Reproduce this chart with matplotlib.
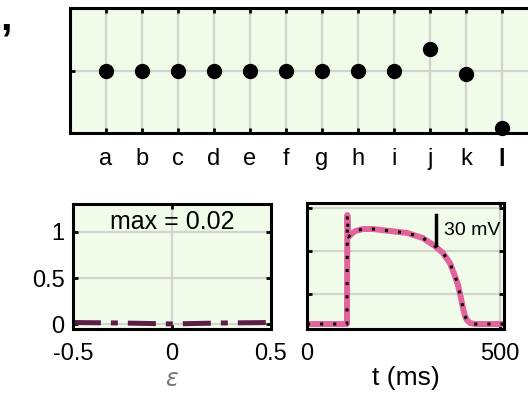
import numpy as np
import matplotlib
matplotlib.use("Agg")
import matplotlib.pyplot as plt

plt.rcParams['font.family'] = ['Liberation Sans', 'DejaVu Sans']

# top panel: one value per letter
letters = ['a', 'b', 'c', 'd', 'e', 'f', 'g', 'h', 'i', 'j', 'k', 'l']
letter_vals = [0, 0, 0, 0, 0, 0, 0, 0, 0, 0.34, -0.06, -0.92]

# bottom left: flat curve over epsilon
eps = [-0.5, -0.25, 0.0, 0.25, 0.5]
eps_vals = [0.02, 0.015, 0.005, 0.015, 0.02]

# bottom right: action potential (ms, mV)
t_ms = [0, 103.5, 104.5, 107, 112, 125, 145, 170, 215, 260, 300, 331, 352,
        370, 383, 391, 398, 404, 409, 414, 422, 435, 510]
v_mv = [-85, -85, 24, 2, 4, 8, 10, 10, 8, 6, 1, -7, -14,
        -24, -37, -46, -58, -69, -77, -81, -84, -85, -85]

bg = '#f1fbea'
grid_c = '#d2d4cf'
spine_w = 2.2


def style(ax):
    ax.set_facecolor(bg)
    for s in ax.spines.values():
        s.set_linewidth(spine_w)
    ax.tick_params(direction='in', length=3.5, width=2, top=True, right=True,
                   labelsize=17, pad=10)
    ax.grid(True, color=grid_c, linewidth=1.6)
    ax.set_axisbelow(True)


fig = plt.figure(figsize=(5.28, 4.07), dpi=100)

# top panel
ax1 = fig.add_axes([0.1326, 0.673, 0.886, 0.307])
style(ax1)
x = np.arange(1, len(letters) + 1)
ax1.plot(x, letter_vals, 'o', color='black', markersize=10, clip_on=False, zorder=5)
ax1.set_xlim(0, 13)
ax1.set_ylim(-1, 1)
ax1.set_xticks(x)
ax1.set_xticklabels(letters)
ax1.get_xticklabels()[-1].set_fontweight('bold')
ax1.set_yticks([0])
ax1.set_yticklabels([])
ax1.tick_params(axis='x', pad=11)

# bottom left
ax2 = fig.add_axes([0.138, 0.1916, 0.375, 0.3072])
style(ax2)
ax2.plot(eps, eps_vals, color='#5c1e45', linewidth=3.6,
         dashes=(5.6, 2, 1.4, 2), solid_capstyle='butt', dash_capstyle='butt')
ax2.set_xlim(-0.5, 0.5)
ax2.set_ylim(-0.05, 1.3)
ax2.set_xticks([-0.5, 0, 0.5])
ax2.set_xticklabels(['-0.5', '0', '0.5'])
ax2.set_yticks([0, 0.5, 1])
ax2.set_yticklabels(['0', '0.5', '1'])
ax2.tick_params(axis='y', pad=6)
ax2.text(0.5, 0.856, 'max = 0.02', transform=ax2.transAxes, ha='center',
         va='center', fontsize=18)
ax2.set_xlabel(r'$\varepsilon$', fontsize=17, color='#777777', labelpad=3)

# bottom right
ax3 = fig.add_axes([0.5814, 0.1916, 0.3731, 0.3096])
style(ax3)
ax3.plot(t_ms, v_mv, color='#e3639d', linewidth=4.3, solid_joinstyle='round')
ax3.plot(t_ms, v_mv, color='black', linewidth=2.2, dashes=(1, 3.3))
ax3.set_xlim(0, 510)
ax3.set_ylim(-90, 36)
ax3.set_xticks([0, 500])
ax3.set_xticklabels(['0', '500'])
ax3.set_yticks([-55, -12, 31])
ax3.set_yticklabels([])
ax3.plot([334, 334], [-6, 24], color='black', linewidth=2.5)
ax3.text(354, 9, '30 mV', fontsize=14, va='center', ha='left')
ax3.set_xlabel('t (ms)', fontsize=19, labelpad=1)

# stray glyph at the left border
fig.text(0.0, 0.955, ',', fontsize=30, fontweight='bold', ha='left', va='center')

fig.savefig('out.png', dpi=100)
